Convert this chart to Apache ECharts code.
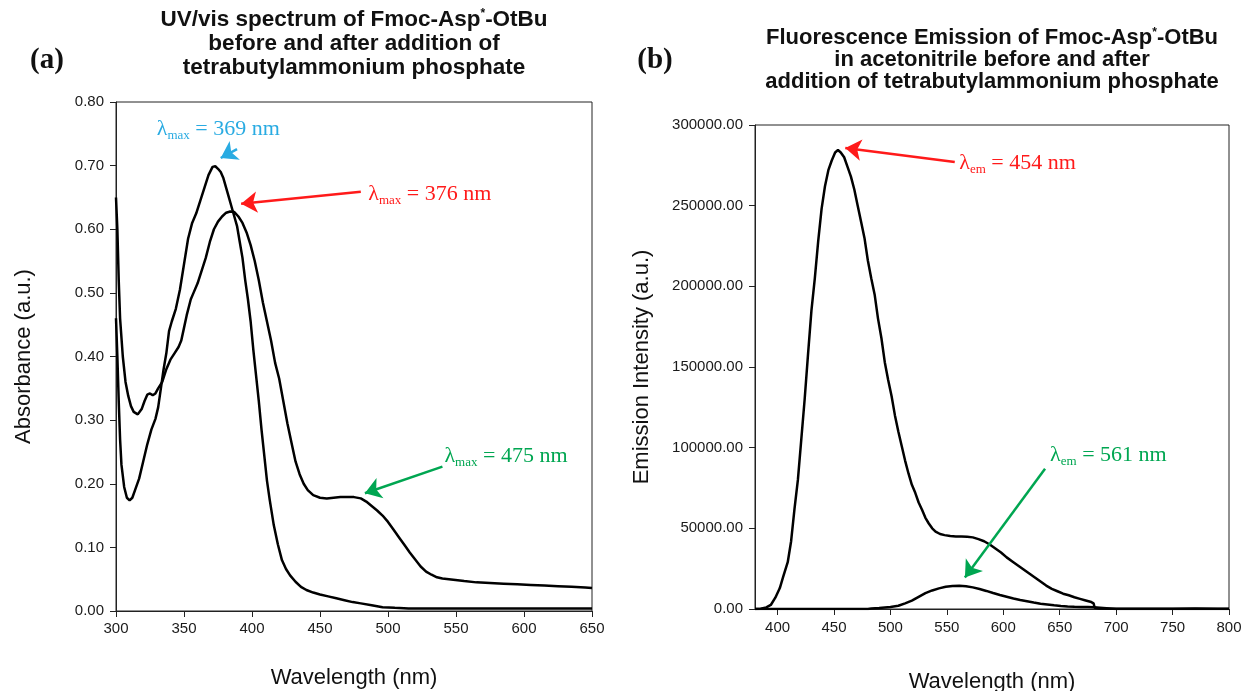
<!DOCTYPE html>
<html><head><meta charset="utf-8">
<script src="https://cdn.jsdelivr.net/npm/echarts@6/dist/echarts.min.js"></script>
<style>html,body{margin:0;padding:0;background:#fff}#c{width:1244px;height:691px}</style>
</head><body><div id="c"></div>
<script>
// ---------- DATA ----------
const uvXTicks = [300, 350, 400, 450, 500, 550, 600, 650];
const uvYTicks = [0, 0.1, 0.2, 0.3, 0.4, 0.5, 0.6, 0.7, 0.8];
const flXTicks = [400, 450, 500, 550, 600, 650, 700, 750, 800];
const flYTicks = [0, 50000, 100000, 150000, 200000, 250000, 300000];

// UV/vis before addition (λmax ~ 369 nm): [wavelength nm, absorbance]
const uvBefore = [[300,0.46],[301,0.40],[302,0.33],[303,0.27],[304,0.23],[306,0.195],[308,0.178],[310,0.174],[312,0.178],[314,0.19],[317,0.208],[320,0.235],[323,0.262],[326,0.285],[329,0.302],[331,0.32],[333,0.35],[335,0.38],[337,0.405],[339,0.44],[341,0.455],[344,0.475],[347,0.505],[350,0.545],[353,0.585],[356,0.61],[359,0.625],[362,0.645],[365,0.665],[368,0.685],[371,0.698],[373,0.699],[375,0.695],[377,0.69],[379,0.68],[381,0.665],[383,0.65],[385,0.635],[387,0.62],[389,0.605],[391,0.58],[393,0.555],[395,0.52],[397,0.49],[399,0.455],[401,0.41],[403,0.37],[405,0.33],[407,0.285],[409,0.245],[411,0.205],[413,0.175],[416,0.135],[419,0.105],[422,0.08],[425,0.066],[428,0.056],[432,0.046],[436,0.038],[440,0.033],[445,0.029],[450,0.026],[456,0.023],[462,0.020],[468,0.017],[474,0.014],[480,0.012],[488,0.009],[496,0.006],[505,0.005],[515,0.004],[530,0.004],[550,0.004],[575,0.004],[600,0.004],[625,0.004],[650,0.004]];

// UV/vis after addition (λmax ~ 376 nm, 475 nm)
const uvAfter = [[300,0.65],[301,0.60],[302,0.52],[303,0.46],[305,0.40],[307,0.36],[309,0.338],[311,0.322],[313,0.313],[316,0.309],[319,0.318],[321,0.33],[323,0.34],[325,0.342],[327,0.339],[329,0.342],[331,0.35],[334,0.36],[337,0.38],[340,0.395],[343,0.405],[346,0.415],[348,0.425],[350,0.445],[352,0.465],[355,0.49],[357,0.50],[360,0.515],[363,0.535],[366,0.555],[369,0.58],[372,0.60],[375,0.612],[378,0.62],[381,0.626],[384,0.628],[387,0.627],[390,0.62],[393,0.61],[396,0.595],[399,0.575],[402,0.55],[405,0.52],[408,0.485],[411,0.455],[414,0.425],[417,0.39],[420,0.365],[423,0.33],[426,0.295],[429,0.265],[432,0.235],[435,0.215],[438,0.2],[441,0.19],[445,0.182],[450,0.178],[455,0.177],[460,0.178],[465,0.179],[470,0.179],[475,0.179],[480,0.177],[484,0.172],[488,0.165],[492,0.158],[496,0.15],[500,0.14],[504,0.128],[508,0.116],[512,0.104],[516,0.092],[520,0.081],[524,0.07],[528,0.062],[532,0.057],[536,0.053],[540,0.051],[548,0.049],[556,0.047],[565,0.045],[575,0.044],[585,0.043],[595,0.042],[605,0.041],[615,0.040],[625,0.039],[635,0.038],[645,0.037],[650,0.036]];

// Fluorescence before addition (λem ~ 454 nm): [wavelength nm, intensity]
const flBefore = [[380,0],[385,200],[390,1000],[394,2500],[398,7000],[402,13000],[405,20000],[409,29000],[412,42000],[415,62000],[418,80000],[421,105000],[424,130000],[427,158000],[430,185000],[433,205000],[436,228000],[439,248000],[442,262000],[445,272000],[448,278000],[451,283000],[453.5,284500],[456,283000],[459,280000],[462,274000],[465,268000],[468,260000],[471,250000],[474,240000],[477,230000],[480,216000],[483,205000],[486,195000],[489,180000],[492,168000],[495,153000],[498,142000],[501,132000],[504,120000],[507,110000],[510,101000],[513,92000],[516,84000],[519,77000],[522,72000],[525,66000],[528,61500],[531,56500],[534,53000],[537,50000],[540,48000],[544,46500],[548,45800],[553,45200],[558,45000],[563,44900],[568,44800],[573,44400],[578,43300],[583,42000],[588,40000],[593,37500],[598,35000],[603,32000],[608,29500],[613,27000],[618,24500],[623,22000],[628,19500],[633,17000],[638,14500],[643,12500],[648,11000],[653,9500],[658,8500],[663,7300],[668,6300],[673,5300],[678,4300],[680,3500],[681,800],[685,300],[700,200],[720,150],[750,200],[770,300],[790,200],[800,100]];

// Fluorescence after addition (λem ~ 561 nm)
const flAfter = [[380,0],[480,0],[483,300],[490,600],[500,1300],[507,2000],[513,3500],[519,5200],[525,7500],[531,9800],[537,11500],[543,12800],[549,13800],[555,14300],[561,14400],[567,14100],[573,13400],[579,12400],[585,11200],[591,9900],[597,8700],[603,7600],[609,6500],[615,5600],[621,4800],[627,4000],[633,3300],[639,2800],[645,2300],[651,1900],[657,1600],[663,1400],[669,1300],[675,1200],[680,1100],[681,200],[700,0],[800,0]];

// ---------- CHART ----------
const CYAN = '#29abe2', RED = '#ff1a1a', GREEN = '#00a651';
const chart = echarts.init(document.getElementById('c'), null, {renderer: 'canvas'});
const tickFont = {fontFamily: 'Liberation Sans', fontSize: 15, color: '#1a1a1a'};
const nameFont = {fontFamily: 'Liberation Sans', fontSize: 22, color: '#111'};

function annot(text, sub, coord, color) {
  return {
    coord: coord, symbol: 'circle', symbolSize: 0,
    label: {
      show: true, position: 'right', distance: 0,
      formatter: '{l|λ}{s|' + sub + '}{n| ' + text + '}',
      rich: {
        l: {fontFamily: 'Liberation Serif', fontSize: 22, color: color, lineHeight: 26},
        s: {fontFamily: 'Liberation Serif', fontSize: 13, color: color, verticalAlign: 'bottom', lineHeight: 19},
        n: {fontFamily: 'Liberation Serif', fontSize: 22, color: color, lineHeight: 26}
      }
    }
  };
}
function arrow(from, to, color) {
  return [{coord: from, lineStyle: {color: color, width: 2.5, type: 'solid'}, itemStyle: {color: color}}, {coord: to}];
}

const lineBase = {type: 'line', showSymbol: false, symbol: 'none', lineStyle: {color: '#000', width: 2.5}, itemStyle: {color: '#000'}, silent: true};
const titleRich = (fs, lh) => ({
  t: {fontFamily: 'Liberation Sans', fontWeight: 'bold', fontSize: fs, lineHeight: lh, fill: '#111'},
  u: {fontFamily: 'Liberation Sans', fontWeight: 'bold', fontSize: 12, lineHeight: lh, verticalAlign: 'top', fill: '#111'}
});

chart.setOption({
  animation: false,
  backgroundColor: '#fff',
  graphic: [
    {type: 'text', x: 354, y: 8, style: {text: '{t|UV/vis spectrum of Fmoc-Asp}{u|*}{t|-OtBu}\n{t|before and after addition of}\n{t|tetrabutylammonium phosphate}', align: 'center', verticalAlign: 'top', rich: titleRich(22.5, 24)}},
    {type: 'text', x: 992, y: 27, style: {text: '{t|Fluorescence Emission of Fmoc-Asp}{u|*}{t|-OtBu}\n{t|in acetonitrile before and after}\n{t|addition of tetrabutylammonium phosphate}', align: 'center', verticalAlign: 'top', rich: titleRich(22, 22)}},
    {type: 'text', x: 47, y: 61, style: {text: '(a)', align: 'center', verticalAlign: 'middle', font: 'bold 29px "Liberation Serif"', fill: '#111'}},
    {type: 'text', x: 655, y: 61, style: {text: '(b)', align: 'center', verticalAlign: 'middle', font: 'bold 29px "Liberation Serif"', fill: '#111'}}
  ],
  grid: [
    {left: 116, right: 652, top: 102, bottom: 80, show: true, borderColor: '#222', borderWidth: 1, backgroundColor: 'transparent', outerBoundsMode: 'none'},
    {left: 755, right: 15, top: 125, bottom: 82, show: true, borderColor: '#222', borderWidth: 1, backgroundColor: 'transparent', outerBoundsMode: 'none'}
  ],
  xAxis: [
    {type: 'value', gridIndex: 0, min: uvXTicks[0], max: uvXTicks[uvXTicks.length - 1], interval: 50,
      name: 'Wavelength (nm)', nameLocation: 'middle', nameGap: 56, nameTextStyle: nameFont,
      axisLine: {show: true, onZero: false, lineStyle: {color: '#222', width: 1}},
      axisTick: {show: true, inside: false, length: 6, lineStyle: {color: '#222'}},
      axisLabel: Object.assign({margin: 10}, tickFont), splitLine: {show: false}},
    {type: 'value', gridIndex: 1, min: 380, max: 800,
      name: 'Wavelength (nm)', nameLocation: 'middle', nameGap: 62, nameTextStyle: nameFont,
      axisLine: {show: true, onZero: false, lineStyle: {color: '#222', width: 1}},
      axisTick: {show: true, inside: false, length: 6, customValues: flXTicks, lineStyle: {color: '#222'}},
      axisLabel: Object.assign({margin: 11, customValues: flXTicks}, tickFont), splitLine: {show: false}}
  ],
  yAxis: [
    {type: 'value', gridIndex: 0, min: 0, max: 0.8, interval: 0.1,
      name: 'Absorbance (a.u.)', nameLocation: 'middle', nameGap: 81, nameTextStyle: nameFont,
      axisLine: {show: true, onZero: false, lineStyle: {color: '#222', width: 1}},
      axisTick: {show: true, inside: false, length: 6, lineStyle: {color: '#222'}},
      axisLabel: Object.assign({margin: 12, formatter: v => v.toFixed(2)}, tickFont), splitLine: {show: false}},
    {type: 'value', gridIndex: 1, min: 0, max: 300000, interval: 50000,
      name: 'Emission Intensity (a.u.)', nameLocation: 'middle', nameGap: 102, nameTextStyle: nameFont,
      axisLine: {show: true, onZero: false, lineStyle: {color: '#222', width: 1}},
      axisTick: {show: true, inside: false, length: 6, lineStyle: {color: '#222'}},
      axisLabel: Object.assign({margin: 12, formatter: v => v.toFixed(2)}, tickFont), splitLine: {show: false}}
  ],
  series: [
    Object.assign({}, lineBase, {name: 'UV before', xAxisIndex: 0, yAxisIndex: 0, data: uvBefore,
      markLine: {silent: true, symbol: ['none', 'arrow'], symbolSize: 16, label: {show: false},
        data: [arrow([389, 0.726], [377, 0.712], CYAN), arrow([480, 0.659], [392, 0.64], RED), arrow([540, 0.227], [483, 0.185], GREEN)]},
      markPoint: {silent: true, data: [annot('= 369 nm', 'max', [330, 0.758], CYAN), annot('= 376 nm', 'max', [485.5, 0.655], RED), annot('= 475 nm', 'max', [541.5, 0.243], GREEN)]}}),
    Object.assign({}, lineBase, {name: 'UV after', xAxisIndex: 0, yAxisIndex: 0, data: uvAfter}),
    Object.assign({}, lineBase, {name: 'FL before', xAxisIndex: 1, yAxisIndex: 1, data: flBefore,
      markLine: {silent: true, symbol: ['none', 'arrow'], symbolSize: 16, label: {show: false},
        data: [arrow([557, 277000], [460, 285700], RED), arrow([637, 87000], [566, 19500], GREEN)]},
      markPoint: {silent: true, data: [annot('= 454 nm', 'em', [561, 276400], RED), annot('= 561 nm', 'em', [641.5, 95400], GREEN)]}}),
    Object.assign({}, lineBase, {name: 'FL after', xAxisIndex: 1, yAxisIndex: 1, data: flAfter})
  ]
});
</script>
</body></html>
